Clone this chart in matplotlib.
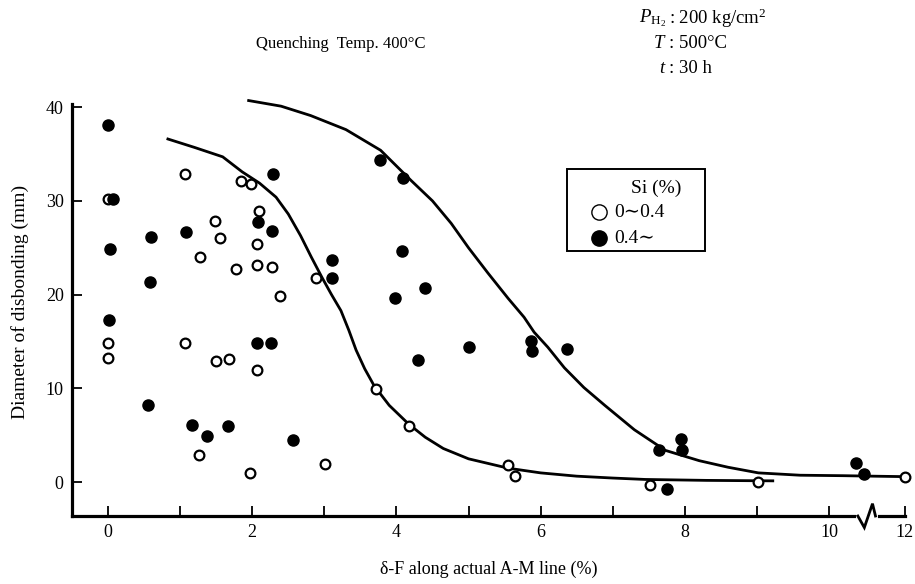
import numpy as np
import matplotlib
matplotlib.use("Agg")
import matplotlib.pyplot as plt
from matplotlib.patches import Rectangle
import matplotlib.transforms as mtransforms

# ---------------- data ----------------
open_x = [0.0, 0.0, 0.0, 1.07, 1.85, 1.98, 2.09, 1.48, 1.55, 2.07, 1.27, 1.78, 2.07, 2.27,
          2.88, 2.39, 1.07, 1.50, 1.68, 2.07, 1.26, 1.97, 3.01, 3.71, 4.17, 5.55, 5.65,
          7.52, 9.02, 12.0]
open_y = [30.2, 14.8, 13.2, 32.9, 32.1, 31.8, 28.9, 27.9, 26.0, 25.4, 24.0, 22.7, 23.2, 23.0,
          21.8, 19.9, 14.9, 12.9, 13.1, 12.0, 2.9, 1.0, 2.0, 9.9, 6.0, 1.8, 0.7,
          -0.3, 0.05, 0.6]

filled_x = [0.0, 0.07, 0.03, 0.02, 0.60, 0.58, 1.08, 2.29, 2.08, 2.28, 2.07, 2.26, 0.56,
            1.16, 1.37, 1.66, 2.57, 3.77, 4.09, 3.11, 3.11, 4.08, 4.40, 3.98, 4.30, 5.00,
            5.86, 5.88, 6.36, 7.64, 7.95, 7.96, 7.75, 10.38, 10.48]
filled_y = [38.1, 30.2, 24.9, 17.3, 26.2, 21.4, 26.7, 32.9, 27.7, 26.8, 14.9, 14.9, 8.2,
            6.1, 4.9, 6.0, 4.5, 34.4, 32.4, 23.7, 21.8, 24.7, 20.7, 19.6, 13.0, 14.4,
            15.1, 14.0, 14.2, 3.4, 4.6, 3.4, -0.7, 2.1, 0.9]

curve_low_x = [0.83, 1.2, 1.59, 1.86, 2.1, 2.33, 2.5, 2.67, 2.82, 2.97, 3.1, 3.23, 3.34,
               3.44, 3.56, 3.69, 3.9, 4.17, 4.4, 4.65, 5.0, 5.55, 6.0, 6.5, 7.0, 7.45,
               8.3, 9.22]
curve_low_y = [36.6, 35.7, 34.7, 33.1, 31.9, 30.4, 28.6, 26.3, 24.0, 21.8, 20.0, 18.3, 16.2,
               14.1, 12.1, 10.3, 8.2, 6.2, 4.8, 3.6, 2.5, 1.5, 1.0, 0.65, 0.45, 0.3,
               0.2, 0.15]

curve_high_x = [1.95, 2.4, 2.81, 3.3, 3.78, 4.2, 4.5, 4.76, 5.0, 5.27, 5.55, 5.77, 5.91,
                6.1, 6.33, 6.6, 6.89, 7.3, 7.73, 8.2, 8.6, 9.02, 9.6, 10.2, 10.6, 12.0]
curve_high_y = [40.7, 40.1, 39.1, 37.6, 35.4, 32.2, 30.0, 27.6, 25.0, 22.3, 19.6, 17.6, 16.0,
                14.4, 12.2, 10.1, 8.2, 5.6, 3.4, 2.3, 1.6, 1.0, 0.75, 0.7, 0.65, 0.6]

x_ticks = [0, 2, 4, 6, 8, 10, 12]
x_minor_ticks = [1, 3, 5, 7, 9]
y_ticks = [0, 10, 20, 30, 40]
legend_title = "Si (%)"
legend_labels = ["0\u223c0.4", "0.4\u223c"]

# ---------------- axis break scale ----------------
BREAK = 10.6
K = 0.32


def fwd(x):
    x = np.asarray(x, dtype=float)
    return np.where(x <= BREAK, x, BREAK + (x - BREAK) * K)


def inv(x):
    x = np.asarray(x, dtype=float)
    return np.where(x <= BREAK, x, BREAK + (x - BREAK) / K)


SERIF = ["Liberation Serif", "DejaVu Serif"]
plt.rcParams["font.family"] = SERIF
plt.rcParams["mathtext.fontset"] = "custom"
plt.rcParams["mathtext.rm"] = "Liberation Serif"
plt.rcParams["mathtext.it"] = "Liberation Serif:italic"

fig = plt.figure(figsize=(9.15, 5.84), dpi=100)
ax = fig.add_axes([0.0787, 0.1164, 0.9104, 0.705])
ax.set_xscale("function", functions=(fwd, inv))
ax.set_xlim(-0.5, 12.02)
ax.set_ylim(-3.6, 40.3)

for s in ("top", "right"):
    ax.spines[s].set_visible(False)
for s in ("left", "bottom"):
    ax.spines[s].set_linewidth(2.3)

ax.set_xticks(x_ticks)
ax.set_xticklabels([str(t) for t in x_ticks])
ax.set_xticks(x_minor_ticks, minor=True)
ax.set_yticks(y_ticks)
ax.tick_params(axis="both", which="both", direction="in", length=7, width=1.3,
               labelsize=13, pad=6)

# curves
ax.plot(curve_low_x, curve_low_y, color="black", lw=2.0, clip_on=False, zorder=2)
ax.plot(curve_high_x, curve_high_y, color="black", lw=2.0, clip_on=False, zorder=2)

# points
ax.plot(open_x, open_y, linestyle="none", marker="o", ms=7, mfc="white", mec="black",
        mew=1.6, clip_on=False, zorder=3)
ax.plot(filled_x, filled_y, linestyle="none", marker="o", ms=8, mfc="black", mec="black",
        mew=1.0, clip_on=False, zorder=3)

# axis break zigzag on the bottom spine
trans = mtransforms.blended_transform_factory(ax.transData, ax.transAxes)
ax.plot([10.40, 10.74], [0, 0], color="white", lw=3.5, transform=trans, clip_on=False, zorder=4)
ax.plot([10.40, 10.49, 10.61, 10.74], [0, -0.028, 0.03, 0],
        color="black", lw=2.0, transform=trans, clip_on=False, zorder=5,
        solid_joinstyle="miter")

ax.set_xlabel("\u03b4-F along actual A-M line (%)", fontsize=13, labelpad=14)
fig.text(20 / 915, 1 - 302 / 584, "Diameter of disbonding (mm)", fontsize=14,
         rotation=90, ha="center", va="center")

# legend (drawn as a framed box in axes coordinates)
ax.add_patch(Rectangle((0.594, 0.644), 0.166, 0.199, transform=ax.transAxes,
                       facecolor="white", edgecolor="black", lw=1.4, clip_on=False, zorder=6))
ax.text(0.701, 0.797, legend_title, transform=ax.transAxes, fontsize=14,
        ha="center", va="center", zorder=7)
ax.plot([0.633], [0.738], transform=ax.transAxes, linestyle="none", marker="o", ms=11,
        mfc="white", mec="black", mew=1.0, clip_on=False, zorder=7)
ax.plot([0.633], [0.675], transform=ax.transAxes, linestyle="none", marker="o", ms=11,
        mfc="black", mec="black", clip_on=False, zorder=7)
ax.text(0.651, 0.738, legend_labels[0], transform=ax.transAxes, fontsize=14,
        ha="left", va="center", zorder=7)
ax.text(0.651, 0.675, legend_labels[1], transform=ax.transAxes, fontsize=14,
        ha="left", va="center", zorder=7)

# header text
fig.text(0.372, 0.925, "Quenching  Temp. 400\u00b0C", fontsize=12, ha="center", va="center")
cx = 0.728
fs = 13.5
fig.text(cx, 0.968, r"$P_{\mathrm{H_2}}$", fontsize=fs, ha="right", va="center")
fig.text(cx, 0.925, r"$T$", fontsize=fs, ha="right", va="center")
fig.text(cx, 0.883, r"$t$", fontsize=fs, ha="right", va="center")
fig.text(cx + 0.003, 0.968, ": 200 kg/cm$^2$", fontsize=fs, ha="left", va="center")
fig.text(cx + 0.003, 0.925, ": 500\u00b0C", fontsize=fs, ha="left", va="center")
fig.text(cx + 0.003, 0.883, ": 30 h", fontsize=fs, ha="left", va="center")

fig.savefig("out.png", dpi=100, facecolor="white")
